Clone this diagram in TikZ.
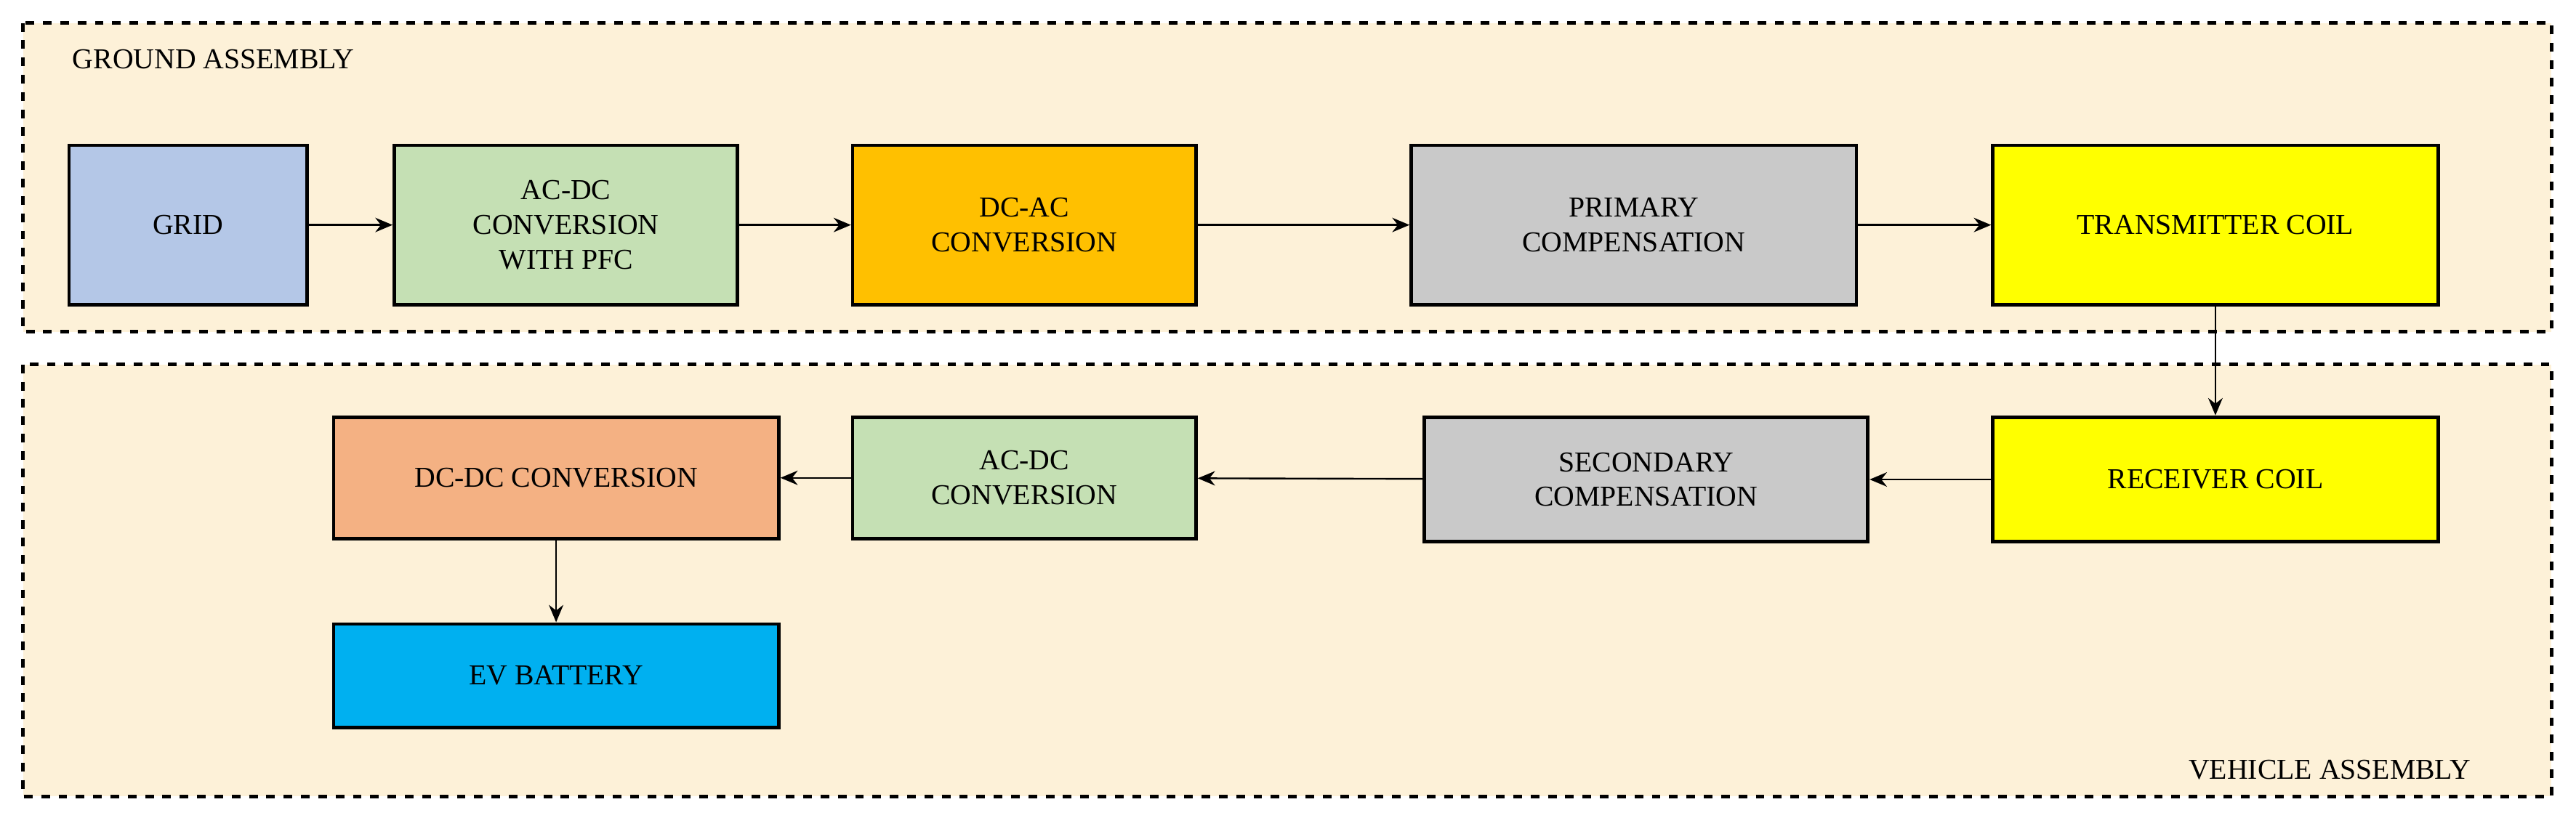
\documentclass[tikz,border=0pt]{standalone}
\usepackage{fontspec}
\setmainfont{Liberation Serif}
\usetikzlibrary{arrows.meta, positioning}
\definecolor{bgyel}{HTML}{FDF1D8}
\definecolor{gridblue}{HTML}{B4C7E7}
\definecolor{convgreen}{HTML}{C5E0B4}
\definecolor{dcorange}{HTML}{FFC000}
\definecolor{compgray}{HTML}{C9C9C9}
\definecolor{coilyel}{HTML}{FFFF00}
\definecolor{dcsalmon}{HTML}{F4B183}
\definecolor{batblue}{HTML}{00B0F0}

\begin{document}
\begin{tikzpicture}[
      x=0.02cm, y=-0.02cm,
      assembly/.style = {draw, dashed, line width=1.3pt, fill=bgyel},
      block/.style    = {draw, line width=1.2pt, align=center, inner sep=2pt,
                         font=\fontsize{10}{12}\selectfont},
      arr/.style      = {-{Stealth[length=6pt,width=5pt]}, line width=0.6pt}
    ]
    \useasboundingbox (0,0) rectangle (1568,498);

    % ---- assembly frames ----
    \draw[assembly] (14,14) rectangle (1553,202);
    \draw[assembly] (14,222) rectangle (1553,485);
    \node[anchor=west, font=\fontsize{10}{12}\selectfont] (ground) at (38,36) {GROUND ASSEMBLY};
    \node[anchor=east, font=\fontsize{10}{12}\selectfont] (vehicle) at (1510,469) {VEHICLE ASSEMBLY};

    % ---- ground blocks ----
    \node[block, fill=gridblue,  minimum width=2.9cm,  minimum height=1.94cm] (grid)  at (114.5,137) {GRID};
    \node[block, fill=convgreen, minimum width=4.18cm, minimum height=1.94cm] (acdc)  at (344.5,137) {AC-DC\\CONVERSION\\WITH PFC};
    \node[block, fill=dcorange,  minimum width=4.18cm, minimum height=1.94cm] (dcac)  at (623.5,137) {DC-AC\\CONVERSION};
    \node[block, fill=compgray,  minimum width=5.42cm, minimum height=1.94cm] (prim)  at (994.5,137) {PRIMARY\\COMPENSATION};
    \node[block, fill=coilyel,   minimum width=5.42cm, minimum height=1.94cm] (tx)    at (1348.5,137) {TRANSMITTER COIL};

    % ---- vehicle blocks ----
    \node[block, fill=coilyel,   minimum width=5.42cm, minimum height=1.52cm] (rx)    at (1348.5,292) {RECEIVER COIL};
    \node[block, fill=compgray,  minimum width=5.4cm,  minimum height=1.52cm] (sec)   at (1002,292) {SECONDARY\\COMPENSATION};
    \node[block, fill=convgreen, minimum width=4.18cm, minimum height=1.48cm] (rect)  at (623.5,291) {AC-DC\\CONVERSION};
    \node[block, fill=dcsalmon,  minimum width=5.42cm, minimum height=1.48cm] (dcdc)  at (338.5,291) {DC-DC CONVERSION};
    \node[block, fill=batblue,   minimum width=5.42cm, minimum height=1.26cm] (bat)   at (338.5,411.5) {EV BATTERY};

    % ---- power flow ----
    \draw[arr] (grid) -- (acdc);
    \draw[arr] (acdc) -- (dcac);
    \draw[arr] (dcac) -- (prim);
    \draw[arr] (prim) -- (tx);
    \draw[arr] (tx)   -- (rx);
    \draw[arr] (rx)   -- (sec);
    \draw[arr] (sec)  -- (rect);
    \draw[arr] (rect) -- (dcdc);
    \draw[arr] (dcdc) -- (bat);
  \end{tikzpicture}
\end{document}
